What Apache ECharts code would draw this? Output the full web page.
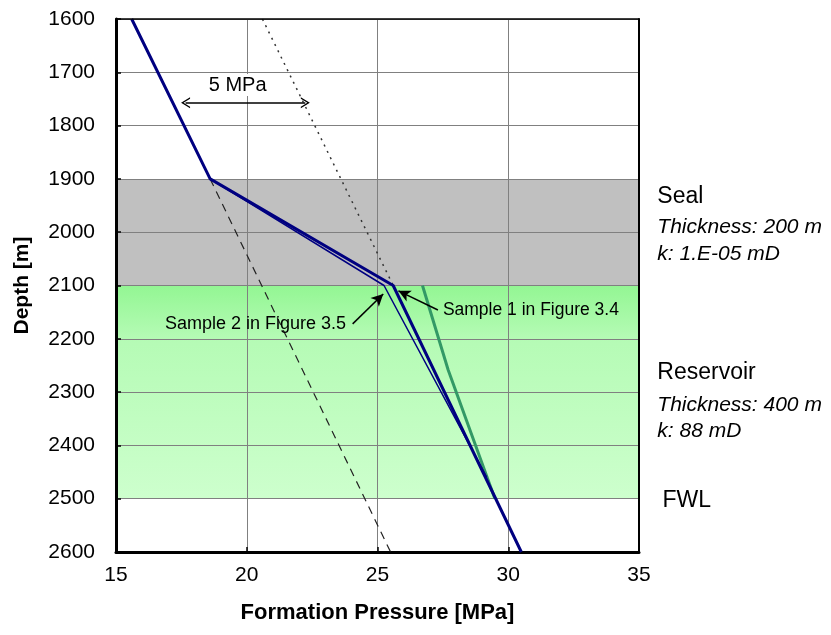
<!DOCTYPE html>
<html>
<head>
<meta charset="utf-8">
<script src="https://cdn.jsdelivr.net/npm/echarts@6/dist/echarts.min.js"></script>
<style>
html,body{margin:0;padding:0;background:#fff;}
#chart{width:831px;height:635px;}
</style>
</head>
<body>
<div id="chart"></div>
<script>
// pressure profiles, [MPa] vs depth [m]
var hydroDepth = [1600, 1900, 2100, 2600];      // sample 1 (thick)
var hydroP = [15.6, 18.6, 25.6, 30.5];
var sample2Depth = [1900, 2100, 2460];
var sample2P = [18.6, 25.25, 29.18];
var measDepth = [2100, 2258, 2500];             // green
var measP = [26.72, 27.70, 29.49];
var dashDepth = [1900, 2600];
var dashP = [18.6, 25.5];
var dotDepth = [1600, 2100];
var dotP = [20.6, 25.6];

// layers
var sealTop = 1900, sealBase = 2100, fwl = 2500;

function pairs(p, d) {
	var out = [];
	for (var i = 0; i < p.length; i++) out.push([p[i], d[i]]);
	return out;
}

var font = 'Liberation Sans, Arial, sans-serif';
var openArrow = 'path://M0,10 L5,0 L10,10 L8.6,10 L5,2.8 L1.4,10 Z';

var myChart = echarts.init(document.getElementById('chart'));
myChart.setOption({
	animation: false,
	grid: {left: 116, right: 192, top: 19, bottom: 83, containLabel: false, outerBoundsMode: 'none'},
	xAxis: [{
		type: 'value', min: 15, max: 35, interval: 5, z: 2,
		name: 'Formation Pressure [MPa]', nameLocation: 'middle', nameGap: 50,
		nameTextStyle: {fontFamily: font, fontSize: 22, fontWeight: 'bold', color: '#000'},
		axisLine: {lineStyle: {color: '#000', width: 3}},
		axisTick: {inside: true, length: 5, lineStyle: {color: '#000', width: 1.5}},
		axisLabel: {fontFamily: font, fontSize: 21, color: '#000', margin: 13},
		splitLine: {lineStyle: {color: '#808080', width: 1}}
	}, {
		type: 'value', min: 15, max: 35, position: 'top', z: 4,
		axisLine: {show: true, lineStyle: {color: '#000', width: 1.5}},
		axisTick: {show: false}, axisLabel: {show: false}, splitLine: {show: false}
	}],
	yAxis: [{
		type: 'value', inverse: true, min: 1600, max: 2600, interval: 100, z: 2,
		name: 'Depth [m]', nameLocation: 'middle', nameGap: 83, nameRotate: 90,
		nameTextStyle: {fontFamily: font, fontSize: 21, fontWeight: 'bold', color: '#000'},
		axisLine: {lineStyle: {color: '#000', width: 3}},
		axisTick: {inside: true, length: 5, lineStyle: {color: '#000', width: 1.5}},
		axisLabel: {fontFamily: font, fontSize: 21, color: '#000', margin: 21,
			formatter: function (v) { return String(v); }},
		splitLine: {lineStyle: {color: '#808080', width: 1}}
	}, {
		type: 'value', inverse: true, min: 1600, max: 2600, position: 'right', z: 4,
		axisLine: {show: true, lineStyle: {color: '#000', width: 2}},
		axisTick: {show: false}, axisLabel: {show: false}, splitLine: {show: false}
	}],
	series: [{
		// seal and reservoir bands
		type: 'line', data: [], z: 1, silent: true,
		markArea: {
			silent: true,
			data: [
				[{coord: [15, sealTop], itemStyle: {color: '#c0c0c0'}}, {coord: [35, sealBase]}],
				[{coord: [15, sealBase], itemStyle: {color: {
					type: 'linear', x: 0, y: 0, x2: 0, y2: 1,
					colorStops: [
						{offset: 0, color: '#93f693'},
						{offset: 0.25, color: '#b5fbb5'},
						{offset: 1, color: '#cdffcd'}
					]}}}, {coord: [35, fwl]}]
			]
		}
	}, {
		type: 'line', z: 3, data: pairs(dashP, dashDepth), symbol: 'none',
		lineStyle: {color: '#222', width: 1.2, type: [8, 6]}
	}, {
		type: 'line', z: 3, data: pairs(dotP, dotDepth), symbol: 'none',
		lineStyle: {color: '#333', width: 1.5, type: [2, 5]}
	}, {
		type: 'line', z: 3, data: pairs(measP, measDepth), symbol: 'none',
		lineStyle: {color: '#339966', width: 3}
	}, {
		type: 'line', z: 3, data: pairs(sample2P, sample2Depth), symbol: 'none',
		lineStyle: {color: '#000080', width: 1.5}
	}, {
		type: 'line', z: 3, data: pairs(hydroP, hydroDepth), symbol: 'none',
		lineStyle: {color: '#000080', width: 3}
	}, {
		// annotation arrows
		type: 'line', z: 4, data: [], silent: true,
		markLine: {
			silent: true, label: {show: false},
			lineStyle: {color: '#000', width: 1.5, type: 'solid'},
			data: [
				[{coord: [17.66, 1757], symbol: openArrow, symbolSize: [11, 9]},
				 {coord: [22.24, 1757], symbol: openArrow, symbolSize: [11, 9]}],
				[{coord: [27.31, 2146], symbol: 'none'},
				 {coord: [25.8, 2110], symbol: 'arrow', symbolSize: [9, 12]}],
				[{coord: [24.05, 2172], symbol: 'none'},
				 {coord: [25.22, 2116], symbol: 'arrow', symbolSize: [9, 12]}]
			]
		}
	}]
});

// text annotations positioned from data coords
function px(p, d) { return myChart.convertToPixel({gridIndex: 0}, [p, d]); }
var notes = [
	{p: 19.65, d: 1724, text: '5 MPa', size: 20, align: 'center', bg: '#fff'},
	{p: 27.5, d: 2146, text: 'Sample 1 in Figure 3.4', size: 17.5, align: 'left'},
	{p: 23.8, d: 2172, text: 'Sample 2 in Figure 3.5', size: 18, align: 'right'},
	{p: 35.7, d: 1934, text: 'Seal', size: 23, align: 'left'},
	{p: 35.7, d: 1991, text: 'Thickness: 200 m', size: 21, align: 'left', italic: true},
	{p: 35.7, d: 2041, text: 'k: 1.E-05 mD', size: 21, align: 'left', italic: true},
	{p: 35.7, d: 2263, text: 'Reservoir', size: 23, align: 'left'},
	{p: 35.7, d: 2324, text: 'Thickness: 400 m', size: 21, align: 'left', italic: true},
	{p: 35.7, d: 2373, text: 'k: 88 mD', size: 21, align: 'left', italic: true},
	{p: 35.9, d: 2503, text: 'FWL', size: 23, align: 'left'}
];
var graphics = notes.map(function (n) {
	var xy = px(n.p, n.d);
	return {
		type: 'text', x: xy[0], y: xy[1], z: 10,
		style: {
			text: n.text, fill: '#000', font: (n.italic ? 'italic ' : '') + n.size + 'px ' + font,
			align: n.align, verticalAlign: 'middle',
			backgroundColor: n.bg, padding: n.bg ? [1, 3] : 0
		}
	};
});
myChart.setOption({graphic: graphics});
</script>
</body>
</html>
